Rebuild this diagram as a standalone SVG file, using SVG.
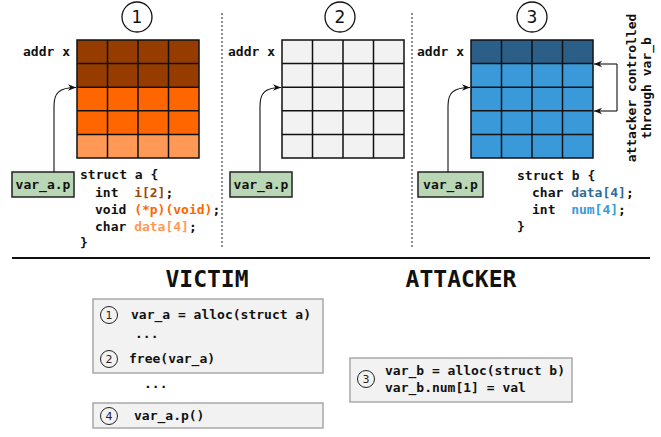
<svg xmlns="http://www.w3.org/2000/svg" width="661" height="437" viewBox="0 0 661 437">
<style>
.m{font-family:"DejaVu Sans Mono","Liberation Mono",monospace;font-weight:bold;font-size:13px;fill:#111;white-space:pre}
.h{font-family:"DejaVu Sans Mono","Liberation Mono",monospace;font-weight:bold;font-size:23px;fill:#111}
.big{fill:#fff;stroke:#111;stroke-width:1.3}
.bn{font-family:"DejaVu Sans","Liberation Sans",sans-serif;font-size:17px;fill:#111;text-anchor:middle}
.sc{fill:none;stroke:#222;stroke-width:1}
.sn{font-family:"DejaVu Sans","Liberation Sans",sans-serif;font-size:11px;fill:#222;text-anchor:middle}
.grid{stroke:#111;stroke-width:1.5;fill:none}
.ptr{fill:#b9d6b5;stroke:#222;stroke-width:1.5}
.box{fill:#f2f2f2;stroke:#a8a8a8;stroke-width:1.5}
.div{stroke:#555;stroke-width:1.3;stroke-dasharray:2 2}
.con{fill:none;stroke:#111;stroke-width:1.1}
</style>
<defs>
<marker id="ah" viewBox="0 0 10 10" refX="10" refY="5" markerWidth="8" markerHeight="8" markerUnits="userSpaceOnUse" orient="auto">
<path d="M0,1 L10,5 L0,9 L3,5 Z" fill="#111"/>
</marker>
</defs>

<line class="div" x1="222" y1="13" x2="222" y2="247"/>
<line class="div" x1="412" y1="13" x2="412" y2="247"/>
<line x1="12" y1="258" x2="650" y2="258" stroke="#111" stroke-width="2"/>

<!-- Panel 1 -->
<g id="panel1">
<circle class="big" cx="137" cy="17" r="15"/>
<text class="bn" x="137" y="23">1</text>
<text class="m" x="23" y="56">addr x</text>
<rect x="77" y="40" width="122" height="47.2" fill="#963c00"/>
<rect x="77" y="87.2" width="122" height="47.2" fill="#ff6600"/>
<rect x="77" y="134.4" width="122" height="23.6" fill="#ff9955"/>
<path class="grid" d="M77,40H199V158H77Z M77,63.6H199 M77,87.2H199 M77,110.8H199 M77,134.4H199 M107.5,40V158 M138,40V158 M168.5,40V158"/>
<text class="m" x="80" y="179">struct a {</text>
<text class="m" x="95" y="197">int  <tspan fill="#a0460c">i[2]</tspan>;</text>
<text class="m" x="95" y="214">void <tspan fill="#ff6600">(*p)(void)</tspan>;</text>
<text class="m" x="95" y="231">char <tspan fill="#ff9955">data[4]</tspan>;</text>
<text class="m" x="80" y="247">}</text>
</g>
<g id="ptr1">
<rect class="ptr" x="12" y="172" width="62" height="25"/>
<text class="m" x="43" y="189" text-anchor="middle">var_a.p</text>
</g>

<!-- Panel 2 -->
<g id="panel2">
<circle class="big" cx="340" cy="17" r="15"/>
<text class="bn" x="340" y="23">2</text>
<text class="m" x="228" y="56">addr x</text>
<rect x="282" y="40" width="122" height="118" fill="#f2f2f2"/>
<path class="grid" d="M282,40H404V158H282Z M282,63.6H404 M282,87.2H404 M282,110.8H404 M282,134.4H404 M312.5,40V158 M343,40V158 M373.5,40V158"/>
</g>
<g id="ptr2">
<rect class="ptr" x="230" y="172" width="62" height="25"/>
<text class="m" x="261" y="189" text-anchor="middle">var_a.p</text>
</g>

<!-- Panel 3 -->
<g id="panel3">
<circle class="big" cx="532" cy="17" r="15"/>
<text class="bn" x="532" y="23">3</text>
<text class="m" x="417" y="56">addr x</text>
<rect x="471" y="40" width="122" height="23.6" fill="#2c5f88"/>
<rect x="471" y="63.6" width="122" height="94.4" fill="#3a9ad9"/>
<path class="grid" d="M471,40H593V158H471Z M471,63.6H593 M471,87.2H593 M471,110.8H593 M471,134.4H593 M501.5,40V158 M532,40V158 M562.5,40V158"/>
<text class="m" x="517" y="180">struct b {</text>
<text class="m" x="532" y="197">char <tspan fill="#2f6a98">data[4]</tspan>;</text>
<text class="m" x="532" y="214">int  <tspan fill="#3a9ad9">num[4]</tspan>;</text>
<text class="m" x="517" y="231">}</text>
<text class="m" transform="translate(636,88) rotate(-90)" text-anchor="middle">attacker controlled</text>
<text class="m" transform="translate(651,88) rotate(-90)" text-anchor="middle">through var_b</text>
</g>
<g id="ptr3">
<rect class="ptr" x="418" y="172" width="65" height="25"/>
<text class="m" x="450.5" y="189" text-anchor="middle">var_a.p</text>
</g>

<!-- Connectors -->
<g id="connectors">
<path class="con" d="M54,172 V106 C54,93 59,87.5 76,87.5" marker-end="url(#ah)"/>
<path class="con" d="M260,172 V106 C260,93 265,87.5 281,87.5" marker-end="url(#ah)"/>
<path class="con" d="M448,172 V106 C448,93 453,87.5 470,87.5" marker-end="url(#ah)"/>
<path class="con" stroke="#333" d="M617,64 V111"/>
<path class="con" stroke="#333" d="M617,64 H594" marker-end="url(#ah)"/>
<path class="con" stroke="#333" d="M617,111 H594" marker-end="url(#ah)"/>
</g>

<!-- Bottom -->
<text class="h" x="207" y="287" text-anchor="middle">VICTIM</text>
<text class="h" x="461" y="287" text-anchor="middle">ATTACKER</text>

<g id="victim1">
<rect class="box" x="93" y="299" width="230" height="74"/>
<circle class="sc" cx="109" cy="315" r="8.5"/>
<text class="sn" x="109" y="319">1</text>
<text class="m" x="131" y="319">var_a = alloc(struct a)</text>
<text class="m" x="135" y="338">...</text>
<circle class="sc" cx="109" cy="359" r="8.5"/>
<text class="sn" x="109" y="363">2</text>
<text class="m" x="129" y="363">free(var_a)</text>
</g>
<text class="m" x="144" y="388">...</text>
<g id="victim4">
<rect class="box" x="93" y="403" width="230" height="25"/>
<circle class="sc" cx="109" cy="416" r="8.5"/>
<text class="sn" x="109" y="420">4</text>
<text class="m" x="134" y="420">var_a.p()</text>
</g>
<g id="attacker3">
<rect class="box" x="350" y="358" width="222" height="44"/>
<circle class="sc" cx="366" cy="379" r="8.5"/>
<text class="sn" x="366" y="383">3</text>
<text class="m" x="385" y="375">var_b = alloc(struct b)</text>
<text class="m" x="385" y="392">var_b.num[1] = val</text>
</g>
</svg>
